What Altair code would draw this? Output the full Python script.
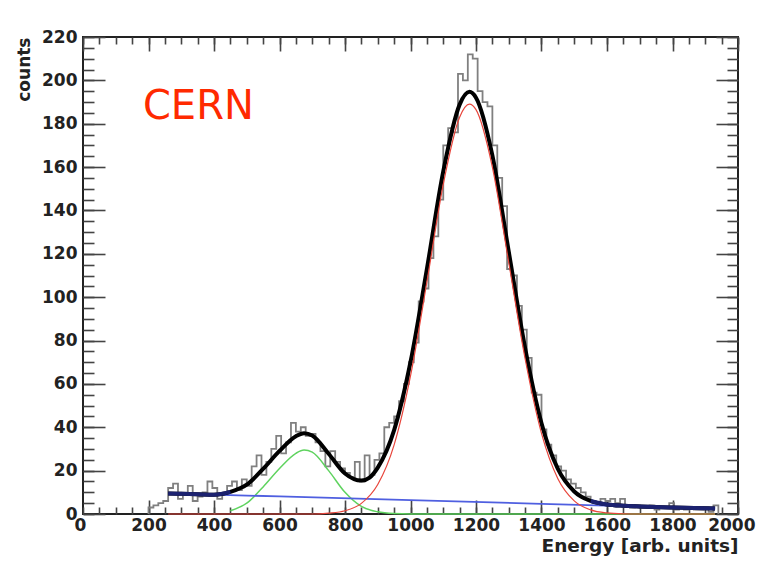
import altair as alt
import pandas as pd

# ---------------- data ----------------
BIN_START = 200
BIN_WIDTH = 15
COUNTS = [3, 4, 5, 6,
          12, 14, 7, 9, 13, 6, 8, 10, 15, 12, 7, 9, 13, 15,
          11, 16, 13, 22, 27, 18, 24, 30, 36, 28, 33, 42, 38, 40, 36, 37,
          33, 29, 22, 29, 24, 21, 19, 17, 24, 15, 27, 18, 25, 28, 40, 42,
          45, 52, 60, 70, 79, 98, 104, 118, 128, 145, 170, 178, 176, 203,
          200, 212, 210, 195, 190, 188, 170, 155, 142, 113, 110, 96, 85, 72,
          56, 55, 39, 32, 27, 22, 20, 16, 14, 12, 10, 8, 6, 5, 7, 6, 7, 5,
          7, 4, 3, 4, 3, 3, 4, 2, 3, 3, 5, 2, 3, 2, 3, 2, 2, 3, 1, 4]

FIT_X = [260, 300, 350, 400, 450, 500, 550, 600, 650, 675, 700, 750, 800,
         850, 875, 900, 950, 1000, 1050, 1100, 1150, 1180, 1200, 1250, 1300,
         1350, 1400, 1450, 1500, 1550, 1600, 1650, 1700, 1800, 1930]
TOTAL = [9.5, 9.3, 9.1, 8.9, 10.2, 13.5, 20.8, 29.1, 35.9, 37.3, 36.2, 27.8,
         18.7, 15.4, 16.8, 21.4, 38.7, 70.1, 113, 158, 188.8, 194.7, 192,
         165.4, 121, 76.5, 41.9, 20.8, 10.4, 6.0, 4.4, 3.8, 3.5, 3.0, 2.5]

RED_X = [260, 700, 750, 800, 850, 900, 950, 1000, 1050, 1100, 1150, 1180,
         1200, 1250, 1300, 1350, 1400, 1450, 1500, 1550, 1600, 1650, 1700, 1930]
RED_Y = [0, 0, 0.4, 1.5, 4.9, 13.6, 31.9, 63.7, 107, 152, 183, 189,
         186.5, 160, 116, 71.6, 37.2, 16.3, 6.05, 1.9, 0.5, 0.1, 0, 0]

GREEN_X = [450, 500, 550, 600, 650, 675, 700, 750, 800, 850, 900, 950, 1000, 1930]
GREEN_Y = [1.5, 5, 12.5, 21, 28, 29.5, 28.5, 20, 10, 3.5, 1, 0.2, 0, 0]

BLUE_X = [260, 600, 1000, 1400, 1930]
BLUE_Y = [9.5, 8.1, 6.4, 4.7, 2.5]

X_MAJOR = list(range(0, 2001, 200))
X_MINOR = list(range(0, 2001, 50))
Y_MAJOR = list(range(0, 221, 20))
Y_MINOR = list(range(0, 221, 5))

ANNOT_X = [183]
ANNOT_Y = [182]
ANNOT_T = ["CERN"]

# ---------------- tables ----------------
edges = [BIN_START + BIN_WIDTH * i for i in range(len(COUNTS) + 1)]
hist = pd.DataFrame({"x": [edges[0]] + edges, "y": [0] + COUNTS + [0]})
hist["i"] = range(len(hist))
total = pd.DataFrame({"x": FIT_X, "y": TOTAL})
red = pd.DataFrame({"x": RED_X, "y": RED_Y})
green = pd.DataFrame({"x": GREEN_X, "y": GREEN_Y})
blue = pd.DataFrame({"x": BLUE_X, "y": BLUE_Y})
annot = pd.DataFrame({"x": ANNOT_X, "y": ANNOT_Y, "t": ANNOT_T})

XS = alt.Scale(domain=[0, 2000], nice=False, zero=False)
YS = alt.Scale(domain=[0, 220], nice=False, zero=False)


def ax(values, size, orient, labels=False, title=None, **kw):
    return alt.Axis(values=values, tickSize=size, offset=-size, orient=orient,
                    labels=labels, domain=False, grid=False, title=title,
                    format="d", **kw)


hist_layer = alt.Chart(hist).mark_line(
    interpolate="step-after", color="#808080", strokeWidth=1.8
).encode(
    x=alt.X("x:Q", scale=XS,
            axis=ax(X_MAJOR[1:], 14, "bottom", labels=True,
                    title="Energy [arb. units]", titleAnchor="end",
                    labelPadding=3, titlePadding=3, titleFontSize=18.5,
                    labelFlush=1, labelFlushOffset=17)),
    y=alt.Y("y:Q", scale=YS,
            axis=ax(Y_MAJOR, 22, "left", labels=True, title="counts",
                    titleAnchor="end", labelPadding=6, titlePadding=8)),
    order="i:Q",
)

# minor ticks; carries the lone "0" label of the x axis
green_layer = alt.Chart(green).mark_line(
    interpolate="monotone", color="#5fd35f", strokeWidth=1.5
).encode(
    x=alt.X("x:Q", scale=XS,
            axis=ax(X_MINOR, 7, "bottom", labels=True, labelPadding=3,
                    labelExpr="datum.value == 0 ? '0' : ''", labelOffset=-3)),
    y=alt.Y("y:Q", scale=YS, axis=ax(Y_MINOR, 11, "left")),
)

blue_layer = alt.Chart(blue).mark_line(
    color="#4f5fe0", strokeWidth=1.8
).encode(
    x=alt.X("x:Q", scale=XS, axis=ax(X_MAJOR, 14, "top")),
    y=alt.Y("y:Q", scale=YS, axis=ax(Y_MAJOR, 22, "right")),
)

total_layer = alt.Chart(total).mark_line(
    interpolate="monotone", color="#000000", strokeWidth=4
).encode(
    x=alt.X("x:Q", scale=XS, axis=ax(X_MINOR, 7, "top")),
    y=alt.Y("y:Q", scale=YS, axis=ax(Y_MINOR, 11, "right")),
)

navy_left = alt.Chart(total).transform_filter("datum.x <= 450").mark_line(
    interpolate="monotone", color="#1c2270", strokeWidth=4
).encode(
    x=alt.X("x:Q", scale=XS, axis=None),
    y=alt.Y("y:Q", scale=YS, axis=None),
)

navy_right = alt.Chart(total).transform_filter("datum.x >= 1550").mark_line(
    interpolate="monotone", color="#1c2270", strokeWidth=4
).encode(
    x=alt.X("x:Q", scale=XS, axis=None),
    y=alt.Y("y:Q", scale=YS, axis=None),
)

red_layer = alt.Chart(red).mark_line(
    interpolate="monotone", color="#e8463c", strokeWidth=1.2
).encode(
    x=alt.X("x:Q", scale=XS, axis=None),
    y=alt.Y("y:Q", scale=YS, axis=None),
)

text_layer = alt.Chart(annot).mark_text(
    align="left", baseline="alphabetic", font="DejaVu Sans",
    fontSize=40, color="#ff2a00"
).encode(
    x=alt.X("x:Q", scale=XS, axis=None),
    y=alt.Y("y:Q", scale=YS, axis=None),
    text="t:N",
)

chart = alt.layer(
    hist_layer, green_layer, blue_layer, total_layer, navy_left, navy_right,
    red_layer, text_layer
).resolve_axis(
    x="independent", y="independent"
).properties(
    width=655, height=477,
    autosize=alt.AutoSizeParams(type="none"),
    padding={"left": 75, "top": 29, "right": 18, "bottom": 55},
    background="#ffffff",
).configure_view(
    stroke="#222222", strokeWidth=2
).configure_axis(
    labelFont="DejaVu Sans", labelFontSize=17, labelFontWeight="bold",
    labelColor="#222222", tickColor="#444444", tickWidth=1.6,
    titleFont="DejaVu Sans", titleFontSize=17, titleFontWeight="bold",
    titleColor="#222222", labelFlush=False, labelOverlap=False,
)

chart.save("out.html", embed_options={"renderer": "svg", "actions": False})
